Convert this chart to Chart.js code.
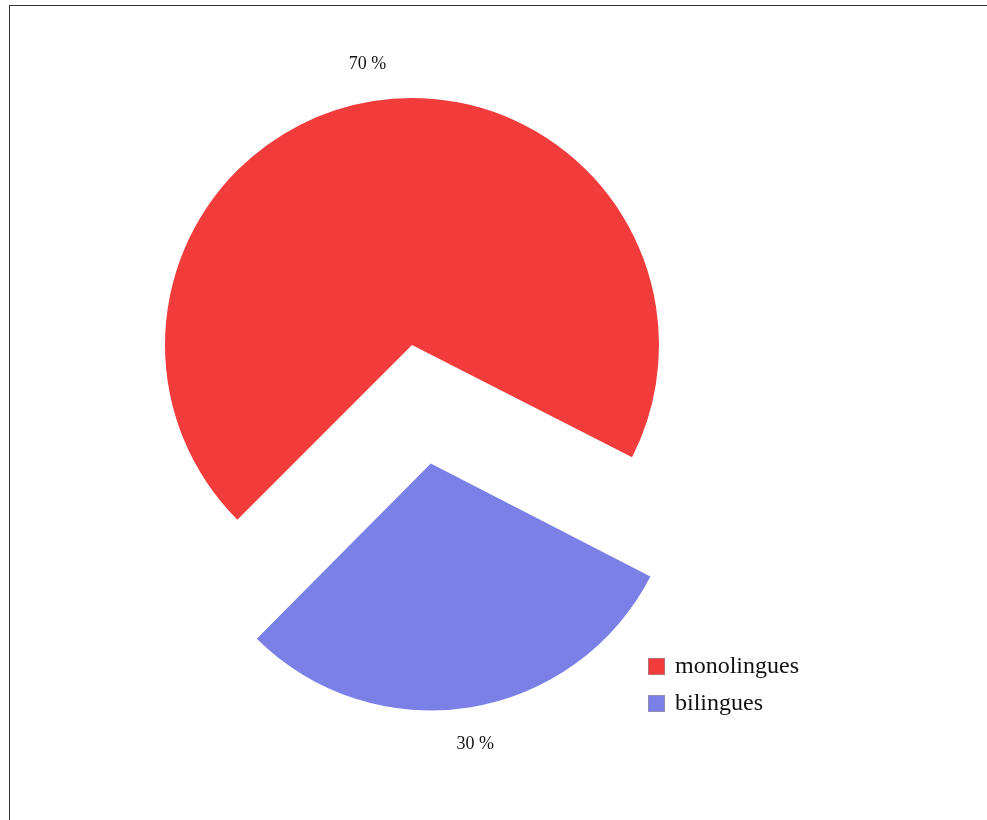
<!DOCTYPE html>
<html>
<head>
<meta charset="utf-8">
<script src="https://cdn.jsdelivr.net/npm/chart.js@4"></script>
<style>
  html, body { margin: 0; padding: 0; background: #fff; overflow: hidden; }
  #wrap { position: relative; width: 987px; height: 820px; }
  #cadre { position: absolute; left: 9px; top: 5px; width: 2000px; height: 2000px;
           border-left: 1px solid #333; border-top: 1px solid #333; pointer-events: none; }
</style>
</head>
<body>
<div id="wrap">
  <canvas id="graphique"></canvas>
  <div id="cadre"></div>
</div>
<script>
// données du graphique
var categories = ["monolingues", "bilingues"];
var valeurs = [70, 30];
var etiquettes = ["70 %", "30 %"];
var couleurs = ["rgb(242, 59, 59)", "rgb(123, 128, 230)"];
var decalage = [0, 480]; // le secteur bleu est détaché

var etiquettesPlugin = {
    id: "etiquettes",
    beforeDatasetsDraw: function(chart){
        // chart.js agrandit un peu le secteur détaché, on garde le même rayon
        var arcs = chart.getDatasetMeta(0).data;
        for (let i = 0; i < arcs.length; i++) {
            const a = arcs[i];
            const fix = 1 - Math.sin(Math.min(Math.PI, a.circumference || 0));
            a._rayonOrig = a.outerRadius;
            a.outerRadius = a.outerRadius - fix * decalage[i] / 4;
        }
    },
    afterDatasetsDraw: function(chart){
        var ctx = chart.ctx;
        var arcs = chart.getDatasetMeta(0).data;
        for (let i = 0; i < arcs.length; i++) {
            if (arcs[i]._rayonOrig) arcs[i].outerRadius = arcs[i]._rayonOrig;
        }
        ctx.save();
        ctx.font = "18px 'Liberation Serif', 'Times New Roman', serif";
        ctx.fillStyle = "#111";
        ctx.textAlign = "center";
        ctx.textBaseline = "middle";
        for (let i = 0; i < arcs.length; i++) {
            const a = arcs[i];
            const milieu = (a.startAngle + a.endAngle) / 2;
            const d = decalage[i] / 4 + a.outerRadius + 37;
            ctx.fillText(etiquettes[i], a.x + Math.cos(milieu) * d, a.y + Math.sin(milieu) * d);
        }
        // légende
        ctx.font = "24px 'Liberation Serif', 'Times New Roman', serif";
        ctx.textAlign = "left";
        for (let i = 0; i < categories.length; i++) {
            const y = 666 + i * 37;
            ctx.fillStyle = couleurs[i];
            ctx.fillRect(648, y - 8, 17, 17);
            ctx.strokeStyle = "rgba(150,150,150,0.6)";
            ctx.lineWidth = 1;
            ctx.strokeRect(648.5, y - 7.5, 16, 16);
            ctx.fillStyle = "#111";
            ctx.fillText(categories[i], 675, y + 1);
        }
        ctx.restore();
    }
};

var chart = new Chart(document.getElementById("graphique").getContext("2d"), {
    "type": "pie",
    "data": {
        "labels": categories,
        "datasets": [{
            "data": valeurs,
            "backgroundColor": couleurs,
            "borderWidth": 0,
            "offset": decalage
        }]
    },
    "options": {
        "responsive": true,
        "maintainAspectRatio": false,
        "animation": false,
        "events": [],
        "rotation": 225,
        "radius": 247,
        "layout": { "padding": { "left": 0, "top": 0, "right": 163, "bottom": 130 } },
        "plugins": { "legend": { "display": false }, "tooltip": { "enabled": false } }
    },
    "plugins": [etiquettesPlugin]
});
</script>
</body>
</html>
